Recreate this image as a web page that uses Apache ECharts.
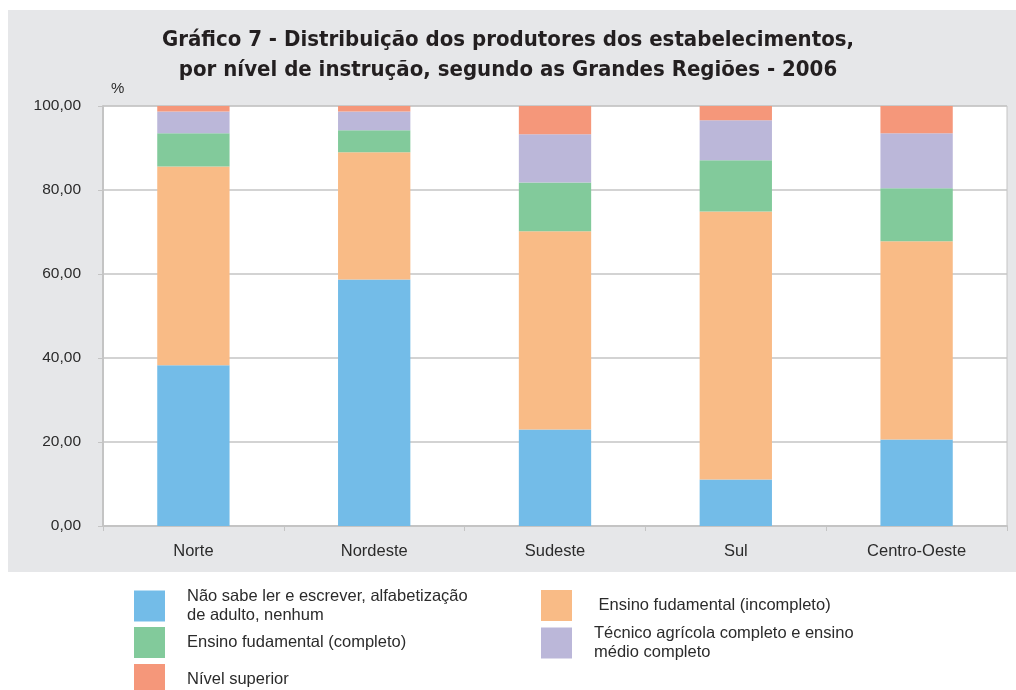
<!DOCTYPE html>
<html>
<head>
<meta charset="utf-8">
<script src="https://cdn.jsdelivr.net/npm/echarts@6/dist/echarts.min.js"></script>
<style>
html,body{margin:0;padding:0;background:#fff;}
#chart{width:1016px;height:690px;}
</style>
</head>
<body>
<div id="chart"></div>
<script>
var categories = ['Norte', 'Nordeste', 'Sudeste', 'Sul', 'Centro-Oeste'];
var seriesNames = [
  'Não sabe ler e escrever, alfabetização de adulto, nenhum',
  'Ensino fudamental (incompleto)',
  'Ensino fudamental (completo)',
  'Técnico agrícola completo e ensino médio completo',
  'Nível superior'
];
var naoSabe      = [38.3, 58.7, 23.0, 11.1, 20.6];
var fundIncomp   = [47.3, 30.3, 47.2, 63.8, 47.2];
var fundComp     = [7.9, 5.2, 11.6, 12.2, 12.6];
var tecnicoMedio = [5.2, 4.5, 11.5, 9.5, 13.1];
var superior     = [1.3, 1.3, 6.7, 3.4, 6.5];
var yTicks = [0, 20, 40, 60, 80, 100];

var colors = ['#73bce8', '#f9bb86', '#82ca9b', '#bbb7d9', '#f5977a'];
var legendLabels = {};
legendLabels[seriesNames[0]] = 'Não sabe ler e escrever, alfabetização\nde adulto, nenhum';
legendLabels[seriesNames[1]] = ' Ensino fudamental (incompleto)';
legendLabels[seriesNames[2]] = 'Ensino fudamental (completo)';
legendLabels[seriesNames[3]] = 'Técnico agrícola completo e ensino\nmédio completo';
legendLabels[seriesNames[4]] = 'Nível superior';

var values = [naoSabe, fundIncomp, fundComp, tecnicoMedio, superior];
var font = "'Liberation Sans', Arial, sans-serif";

var legendPos = [
  {left: 134, top: 584, padTop: 6},
  {left: 541, top: 590, padTop: 0},
  {left: 134, top: 627, padTop: 0},
  {left: 541, top: 624, padTop: 0},
  {left: 134, top: 664, padTop: 0}
];

var legends = seriesNames.map(function (n, i) {
  return {
    data: [n],
    left: legendPos[i].left,
    top: legendPos[i].top,
    padding: 0,
    itemWidth: 31,
    itemHeight: 31,
    icon: 'rect',
    selectedMode: false,
    formatter: function (name) { return legendLabels[name]; },
    textStyle: {
      fontFamily: font,
      fontSize: 16.5,
      lineHeight: 19,
      color: '#2b2b2b',
      padding: [legendPos[i].padTop, 0, 0, 17]
    }
  };
});

var chart = echarts.init(document.getElementById('chart'), null, {renderer: 'canvas'});
chart.setOption({
  backgroundColor: '#ffffff',
  animation: false,
  color: colors,
  graphic: [{
    type: 'rect',
    z: -100,
    shape: {x: 8, y: 10, width: 1008, height: 562},
    style: {fill: '#e6e7e9'}
  }],
  title: {
    text: 'Gráfico 7 - Distribuição dos produtores dos estabelecimentos,\npor nível de instrução, segundo as Grandes Regiões - 2006',
    left: 'center',
    top: 25,
    padding: [0, 0, 0, 14],
    textStyle: {
      fontFamily: "'Liberation Sans Narrow', 'DejaVu Sans Condensed', sans-serif",
      fontWeight: 'bold',
      fontSize: 22,
      lineHeight: 30,
      color: '#231f20'
    }
  },
  legend: legends,
  grid: {
    left: 103,
    right: 9,
    top: 106,
    bottom: 164,
    show: true,
    backgroundColor: '#ffffff',
    borderColor: '#c4c4c4',
    borderWidth: 1
  },
  xAxis: {
    type: 'category',
    data: categories,
    axisLine: {show: true, lineStyle: {color: '#c4c4c4', width: 2}},
    axisTick: {show: true, length: 5, alignWithLabel: false, lineStyle: {color: '#c4c4c4', width: 1}},
    axisLabel: {fontFamily: font, fontSize: 16.5, color: '#2b2b2b', margin: 17}
  },
  yAxis: {
    type: 'value',
    min: 0,
    max: 100,
    interval: 20,
    name: '%',
    nameLocation: 'end',
    nameGap: 10,
    nameTextStyle: {fontFamily: font, fontSize: 15, color: '#2b2b2b', align: 'left', padding: [0, 0, 0, 8]},
    axisLine: {show: true, lineStyle: {color: '#c4c4c4', width: 2}},
    axisTick: {show: true, length: 5, lineStyle: {color: '#c4c4c4'}},
    splitLine: {show: true, lineStyle: {color: '#c4c4c4', width: 1.5}},
    axisLabel: {
      fontFamily: font, fontSize: 15.5, color: '#2b2b2b', margin: 22,
      formatter: function (v) { return v.toFixed(2).replace('.', ','); }
    }
  },
  series: seriesNames.map(function (n, i) {
    return {
      name: n,
      type: 'bar',
      stack: 'total',
      barWidth: '40%',
      data: values[i],
      itemStyle: {color: colors[i]}
    };
  })
});
</script>
</body>
</html>
